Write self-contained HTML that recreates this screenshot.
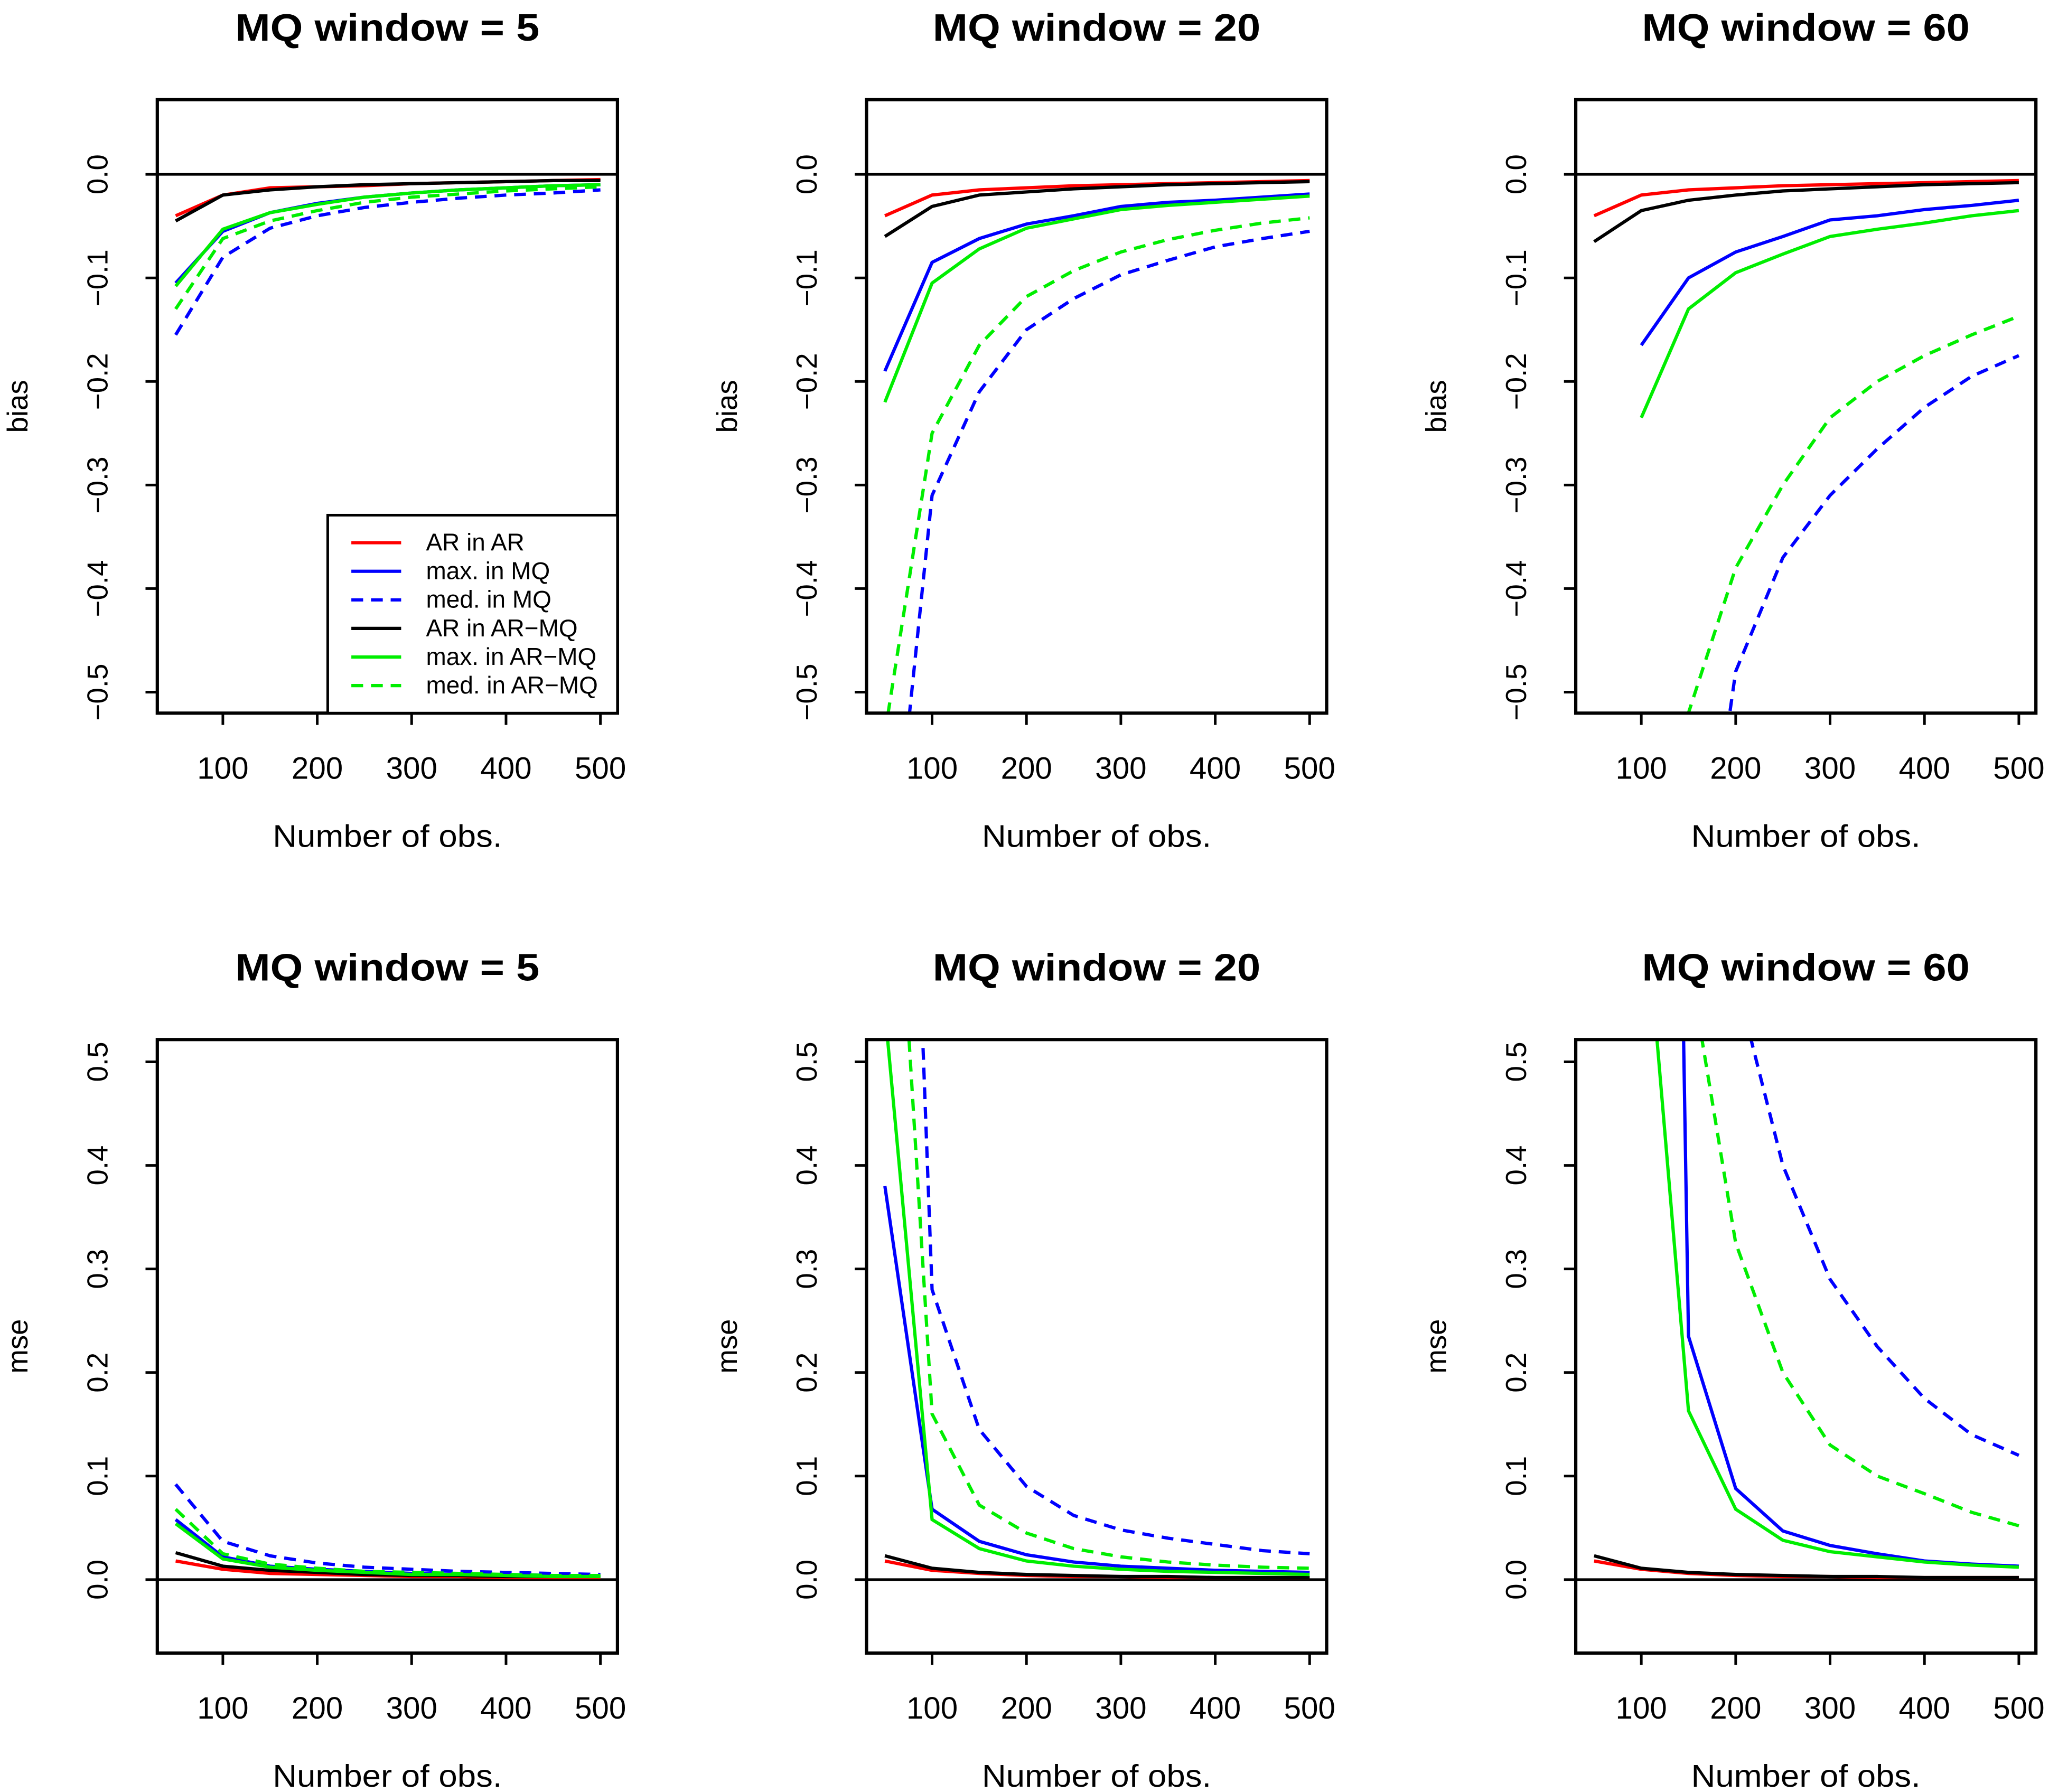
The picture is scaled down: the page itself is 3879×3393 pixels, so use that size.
<!DOCTYPE html>
<html><head><meta charset="utf-8"><style>html,body{margin:0;padding:0;background:#fff}svg{display:block}</style></head>
<body>
<svg id="chart" xmlns="http://www.w3.org/2000/svg" width="3879" height="3393" viewBox="0 0 1563 1367" preserveAspectRatio="none" font-family="'Liberation Sans', sans-serif">
<rect width="1563" height="1367" fill="#fff"/>
</svg>
<script>
const nObs = [50,100,150,200,250,300,350,400,450,500];
const xTicks = [100,200,300,400,500];
const biasTicks = [0,-0.1,-0.2,-0.3,-0.4,-0.5];
const mseTicks = [0,0.1,0.2,0.3,0.4,0.5];
const seriesNames = ["AR in AR","max. in MQ","med. in MQ","AR in AR\u2212MQ","max. in AR\u2212MQ","med. in AR\u2212MQ"];
const windows = [5,20,60];
const N = null;
const bias5 = [
 [-0.04,-0.02,-0.013,-0.012,-0.011,-0.009,-0.008,-0.007,-0.006,-0.005],
 [-0.105,-0.055,-0.037,-0.028,-0.022,-0.018,-0.015,-0.013,-0.011,-0.01],
 [-0.155,-0.08,-0.052,-0.04,-0.032,-0.027,-0.023,-0.02,-0.018,-0.015],
 [-0.045,-0.02,-0.015,-0.012,-0.01,-0.009,-0.008,-0.007,-0.006,-0.006],
 [-0.108,-0.053,-0.037,-0.029,-0.022,-0.018,-0.015,-0.013,-0.011,-0.01],
 [-0.13,-0.062,-0.045,-0.035,-0.027,-0.022,-0.019,-0.016,-0.014,-0.012]];
const bias20 = [
 [-0.04,-0.02,-0.015,-0.013,-0.011,-0.01,-0.009,-0.008,-0.007,-0.006],
 [-0.19,-0.085,-0.062,-0.048,-0.04,-0.031,-0.027,-0.025,-0.022,-0.019],
 [-0.75,-0.31,-0.21,-0.15,-0.12,-0.097,-0.083,-0.07,-0.062,-0.055],
 [-0.06,-0.031,-0.02,-0.017,-0.014,-0.012,-0.01,-0.009,-0.008,-0.007],
 [-0.22,-0.105,-0.072,-0.052,-0.043,-0.034,-0.03,-0.027,-0.024,-0.021],
 [-0.54,-0.25,-0.165,-0.118,-0.093,-0.075,-0.063,-0.054,-0.047,-0.042]];
const bias60 = [
 [-0.04,-0.02,-0.015,-0.013,-0.011,-0.01,-0.009,-0.008,-0.007,-0.006],
 [N,-0.165,-0.1,-0.075,-0.06,-0.044,-0.04,-0.034,-0.03,-0.025],
 [N,N,-0.8,-0.48,-0.37,-0.31,-0.265,-0.225,-0.195,-0.175],
 [-0.065,-0.035,-0.025,-0.02,-0.016,-0.014,-0.012,-0.01,-0.009,-0.008],
 [N,-0.235,-0.13,-0.095,-0.077,-0.06,-0.053,-0.047,-0.04,-0.035],
 [N,-0.9,-0.52,-0.38,-0.3,-0.235,-0.2,-0.175,-0.155,-0.137]];
const mse5 = [
 [0.018,0.01,0.006,0.005,0.004,0.003,0.003,0.002,0.002,0.002],
 [0.058,0.022,0.013,0.01,0.008,0.006,0.005,0.005,0.004,0.004],
 [0.092,0.037,0.023,0.016,0.012,0.01,0.008,0.007,0.006,0.005],
 [0.026,0.013,0.009,0.007,0.005,0.004,0.004,0.003,0.003,0.003],
 [0.054,0.02,0.012,0.009,0.007,0.005,0.005,0.004,0.003,0.003],
 [0.068,0.025,0.015,0.011,0.008,0.007,0.006,0.005,0.004,0.004]];
const mse20 = [
 [0.018,0.009,0.006,0.004,0.003,0.003,0.002,0.002,0.002,0.002],
 [0.38,0.068,0.037,0.024,0.017,0.013,0.011,0.009,0.008,0.007],
 [1.5,0.28,0.145,0.09,0.062,0.048,0.04,0.034,0.028,0.025],
 [0.023,0.011,0.007,0.005,0.004,0.003,0.003,0.002,0.002,0.002],
 [0.55,0.058,0.03,0.018,0.013,0.01,0.008,0.007,0.006,0.005],
 [0.9,0.16,0.072,0.045,0.03,0.022,0.017,0.014,0.012,0.011]];
const mse60 = [
 [0.018,0.01,0.006,0.004,0.003,0.003,0.002,0.002,0.002,0.002],
 [N,3.0,0.235,0.088,0.047,0.033,0.025,0.018,0.015,0.013],
 [N,N,N,0.58,0.4,0.29,0.225,0.175,0.14,0.12],
 [0.023,0.011,0.007,0.005,0.004,0.003,0.003,0.002,0.002,0.002],
 [N,0.7,0.163,0.068,0.038,0.027,0.022,0.017,0.014,0.012],
 [N,N,0.6,0.325,0.2,0.13,0.1,0.083,0.065,0.052]];

const colors = ["#ff0000","#0000ff","#0000ff","#000000","#00ee00","#00ee00"];
const dashed = [false,false,true,false,false,true];
const NS = "http://www.w3.org/2000/svg";
const svg = document.getElementById('chart');
function mk(tag, attrs, parent){const e=document.createElementNS(NS,tag);for(const k in attrs)e.setAttribute(k,attrs[k]);(parent||svg).appendChild(e);return e;}

function panel(col,row,data,ticks,ylab,idx){
  const bx = 120 + col*541, bw = 351;
  const by = row===0 ? 76 : 793, bh = 468;
  const zeroY = row===0 ? 133 : 1205;
  const sx = v => bx + 50 + (v-100)*0.72;
  const sy = v => zeroY - v*790;
  const g = mk('g',{});
  
  
  const cid='clip'+idx;
  const cp=mk('clipPath',{id:cid},g); mk('rect',{x:bx,y:by,width:bw,height:bh},cp);
  const t=mk('text',{x:bx+bw/2,y:row===0?31:748,'text-anchor':'middle','font-size':29,'font-weight':'bold',textLength:(windows[col]<10?232:250),lengthAdjust:'spacingAndGlyphs'},g);
  t.textContent='MQ window = '+windows[col];
  
  
  mk('line',{x1:bx,x2:bx+bw,y1:zeroY,y2:zeroY,stroke:'#000','stroke-width':2},g);
  const lines=mk('g',{'clip-path':'url(#'+cid+')'},g);
  data.forEach((s,i)=>{
    let d='',pen=false;
    s.forEach((v,j)=>{ if(v===null){pen=false;return;} d+=(pen?'L':'M')+sx(nObs[j]).toFixed(2)+' '+sy(v).toFixed(2)+' '; pen=true;});
    const p=mk('path',{d:d,fill:'none',stroke:colors[i],'stroke-width':2.5,'stroke-dasharray':dashed[i]?'9 6':'none'},lines);
    
    
  });
  mk('rect',{x:bx,y:by,width:bw,height:bh,fill:'none',stroke:'#000','stroke-width':2.5},g);
  xTicks.forEach(v=>{
    const x=sx(v);
    mk('line',{x1:x,x2:x,y1:by+bh,y2:by+bh+9,stroke:'#000','stroke-width':2},g);
    const tl=mk('text',{x:x,y:by+bh+50,'text-anchor':'middle','font-size':23.5},g); tl.textContent=v;
    
    
  });
  ticks.forEach(v=>{
    const y=sy(v);
    mk('line',{x1:bx,x2:bx-9,y1:y,y2:y,stroke:'#000','stroke-width':2},g);
    const tl=mk('text',{x:0,y:0,'text-anchor':'middle','font-size':22,transform:'translate('+(bx-38)+','+y+') rotate(-90)'},g);
    tl.textContent=(v===0?'0.0':(v<0?'\u2212'+Math.abs(v).toFixed(1):v.toFixed(1)));
    
    
  });
  const xt=mk('text',{x:bx+bw/2,y:by+bh+102,'text-anchor':'middle','font-size':24,textLength:175,lengthAdjust:'spacingAndGlyphs'},g); xt.textContent='Number of obs.';
  
  
  const yt=mk('text',{x:0,y:0,'text-anchor':'middle','font-size':22,transform:'translate('+(bx-99)+','+(by+bh/2)+') rotate(-90)'},g); yt.textContent=ylab;
  
  
}
const biasSets=[bias5,bias20,bias60], mseSets=[mse5,mse20,mse60];
for(let c=0;c<3;c++){ panel(c,0,biasSets[c],biasTicks,'bias',c); panel(c,1,mseSets[c],mseTicks,'mse',c+3); }

const lg=mk('g',{});


mk('rect',{x:250,y:393,width:221,height:151,fill:'#fff',stroke:'#000','stroke-width':2},lg);
seriesNames.forEach((n,i)=>{
  const y=414+i*21.8;
  const e=mk('g',{},lg);
  
  
  mk('line',{x1:268,x2:306,y1:y,y2:y,stroke:colors[i],'stroke-width':2.5,'stroke-dasharray':dashed[i]?'9 6':'none'},e);
  const t=mk('text',{x:325,y:y+6,'font-size':18.5},e); t.textContent=n;
});
</script>
</body></html>
